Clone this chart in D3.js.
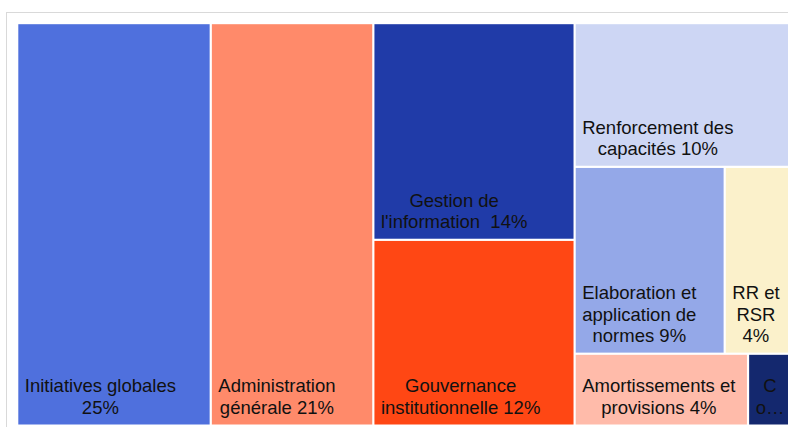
<!DOCTYPE html>
<html>
<head>
<meta charset="utf-8">
<script src="https://cdn.jsdelivr.net/npm/d3@7"></script>
<style>
  html, body { margin: 0; padding: 0; background: #ffffff; }
  svg { display: block; }
  text { font-family: "Liberation Sans", Arial, sans-serif; font-size: 18.5px; fill: #111111; white-space: pre; }
</style>
</head>
<body>
<svg id="chart" width="788" height="427"></svg>
<script>
// Budget breakdown by programme (share of total, %)
const categories = [
  "Initiatives globales",
  "Administration générale",
  "Gestion de l'information",
  "Gouvernance institutionnelle",
  "Renforcement des capacités",
  "Elaboration et application de normes",
  "RR et RSR",
  "Amortissements et provisions",
  "Co…"
];
const values = [25, 21, 14, 12, 10, 9, 4, 4, 1];
const colors = [
  "#4f70dd", "#ff8a6a", "#203ba8", "#ff4714", "#cdd6f4",
  "#94a8e8", "#fbf1cb", "#ffbbaa", "#14286e"
];
// Wrapped label lines as shown in each tile
const labelLines = [
  ["Initiatives globales", "25%"],
  ["Administration", "générale 21%"],
  ["Gestion de", "l'information  14%"],
  ["Gouvernance", "institutionnelle 12%"],
  ["Renforcement des", "capacités 10%"],
  ["Elaboration et", "application de", "normes 9%"],
  ["RR et", "RSR", "4%"],
  ["Amortissements et", "provisions 4%"],
  ["C", "o…"]
];
// Nesting of tiles: columns, then rows inside the last columns
const layoutGroups = [0, 1, [2, 3], [4, [5, 6], [7, 8]]];

const svg = d3.select("#chart");

// Chart-area frame
svg.append("rect")
  .attr("x", 6.5).attr("y", 12.5)
  .attr("width", 900).attr("height", 600)
  .attr("fill", "#ffffff")
  .attr("stroke", "#d9d9d9")
  .attr("stroke-width", 1);

function toNode(g) {
  if (typeof g === "number") {
    return { index: g, name: categories[g], value: values[g] };
  }
  return { children: g.map(toNode) };
}

const root = d3.hierarchy({ children: layoutGroups.map(toNode) })
  .sum(d => d.value || 0);

const plot = { x: 18.3, y: 24.2, w: 772, h: 400.3 };

d3.treemap()
  .tile(d3.treemapSliceDice)
  .size([plot.w, plot.h])
  .paddingInner(2.2)
  (root);

const g = svg.append("g").attr("transform", `translate(${plot.x},${plot.y})`);

const leaves = g.selectAll("g.leaf")
  .data(root.leaves())
  .join("g")
  .attr("class", "leaf");

leaves.append("rect")
  .attr("x", d => d.x0)
  .attr("y", d => d.y0)
  .attr("width", d => d.x1 - d.x0)
  .attr("height", d => d.y1 - d.y0)
  .attr("fill", d => colors[d.data.index]);

const lineH = 21.5;
const padLeft = 6.5;
const padBottom = 10.5;

leaves.each(function(d) {
  const lines = labelLines[d.data.index];
  const t = d3.select(this).append("text").attr("text-anchor", "middle");
  const spans = lines.map((ln, i) =>
    t.append("tspan")
      .text(ln)
      .attr("y", d.y1 - padBottom - (lines.length - 1 - i) * lineH)
  );
  const maxW = d3.max(spans, s => s.node().getComputedTextLength());
  const cx = d.x0 + padLeft + maxW / 2;
  spans.forEach(s => s.attr("x", cx));
});
</script>
</body>
</html>
